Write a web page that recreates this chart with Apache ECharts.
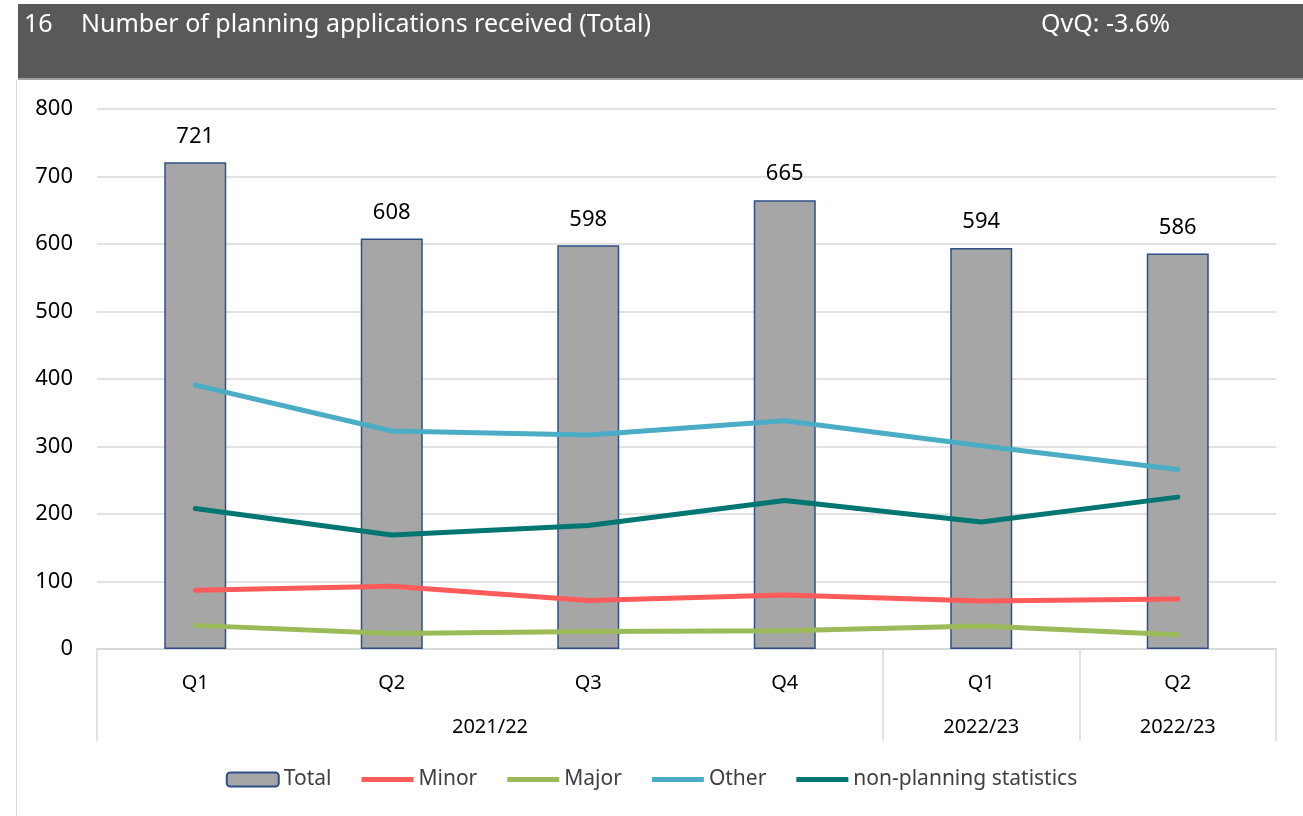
<!DOCTYPE html>
<html>
<head>
<meta charset="utf-8">
<title>Number of planning applications received</title>
<script src="https://cdn.jsdelivr.net/npm/echarts@6/dist/echarts.min.js"></script>
<style>
  html, body { margin: 0; padding: 0; background: #fff; }
  #chart { width: 1303px; height: 816px; }
</style>
</head>
<body>
<div id="chart"></div>
<script>
// quarters on the first axis level, years on the second
var quarters = ['Q1', 'Q2', 'Q3', 'Q4', 'Q1', 'Q2'];
var yearLabels = ['2021/22', '2022/23', '2022/23'];
var yearCentres = [2, 4.5, 5.5];
var yearBreaks = [0, 4, 5, 6];

// series values
var total = [721, 608, 598, 665, 594, 586];
var minor = [87, 93, 72, 80, 71, 74];
var major = [35, 23, 26, 27, 34, 21];
var other = [391, 323, 317, 338, 301, 266];
var nonPlanning = [208, 169, 183, 220, 188, 225];

var yTicks = [0, 100, 200, 300, 400, 500, 600, 700, 800];

var font = '"Noto Sans", "Open Sans", sans-serif';
var lineIcon = 'path://M0,0 L52,0 L52,5 L0,5 Z';

var myChart = echarts.init(document.getElementById('chart'));

function lineSeries(name, data, color) {
    return {
        name: name,
        type: 'line',
        data: data,
        symbol: 'none',
        lineStyle: { color: color, width: 5, cap: 'round' },
        itemStyle: { color: color },
        z: 3
    };
}

var headText = { color: '#fff', fontSize: 25, fontWeight: 'normal', fontFamily: font };

var option = {
    backgroundColor: '#fff',
    animation: false,
    textStyle: { fontFamily: font },
    graphic: [
        { type: 'rect', left: 18, top: 4, shape: { width: 1285, height: 74 }, style: { fill: '#595959' } },
        { type: 'rect', left: 18, top: 78, shape: { width: 1285, height: 2 }, style: { fill: '#a0a0a0' } },
        { type: 'rect', left: 16, top: 80, shape: { width: 1, height: 736 }, style: { fill: '#d9d9d9' } }
    ],
    title: [
        { text: '16', left: 19, top: 7, textStyle: headText },
        { text: 'Number of planning applications received (Total)', left: 76, top: 7, textStyle: headText },
        { text: 'QvQ: -3.6%', left: 1036, top: 7, textStyle: headText }
    ],
    legend: {
        bottom: 21,
        left: 'center',
        itemWidth: 52,
        itemHeight: 14,
        itemGap: 30,
        textStyle: { fontSize: 21, color: '#404040', fontFamily: font },
        data: [
            { name: 'Total' },
            { name: 'Minor', icon: lineIcon },
            { name: 'Major', icon: lineIcon },
            { name: 'Other', icon: lineIcon },
            { name: 'non-planning statistics', icon: lineIcon }
        ]
    },
    grid: { left: 97, right: 27, top: 109, bottom: 167 },
    xAxis: [
        {
            type: 'category',
            data: quarters,
            axisLine: { lineStyle: { color: '#d9d9d9', width: 2 } },
            axisTick: { show: false },
            axisLabel: { color: '#000', fontSize: 20, margin: 24, fontFamily: font }
        },
        {
            type: 'value',
            min: 0,
            max: 6,
            position: 'bottom',
            axisLine: { show: false },
            splitLine: { show: false },
            axisTick: {
                show: true,
                customValues: yearBreaks,
                length: 92,
                lineStyle: { color: '#d9d9d9', width: 1.5 }
            },
            axisLabel: {
                customValues: yearCentres,
                color: '#000',
                fontSize: 20,
                margin: 68,
                fontFamily: font,
                formatter: function (v) {
                    return yearLabels[yearCentres.indexOf(v)];
                }
            }
        }
    ],
    yAxis: {
        type: 'value',
        min: yTicks[0],
        max: yTicks[yTicks.length - 1],
        interval: 100,
        axisLine: { show: false },
        axisTick: { show: false },
        splitLine: { lineStyle: { color: '#d9d9d9', width: 1.5 } },
        axisLabel: { color: '#000', fontSize: 22, margin: 24, fontFamily: font }
    },
    series: [
        {
            name: 'Total',
            type: 'bar',
            data: total,
            barWidth: 62,
            itemStyle: { color: '#a6a6a6', borderColor: '#2f4f86', borderWidth: 1.5 },
            label: { show: true, position: 'top', distance: 15, color: '#000', fontSize: 22, fontFamily: font },
            z: 2
        },
        lineSeries('Minor', minor, '#ff5b5b'),
        lineSeries('Major', major, '#9bbb59'),
        lineSeries('Other', other, '#4bacc6'),
        lineSeries('non-planning statistics', nonPlanning, '#007672')
    ]
};

myChart.setOption(option);
</script>
</body>
</html>
